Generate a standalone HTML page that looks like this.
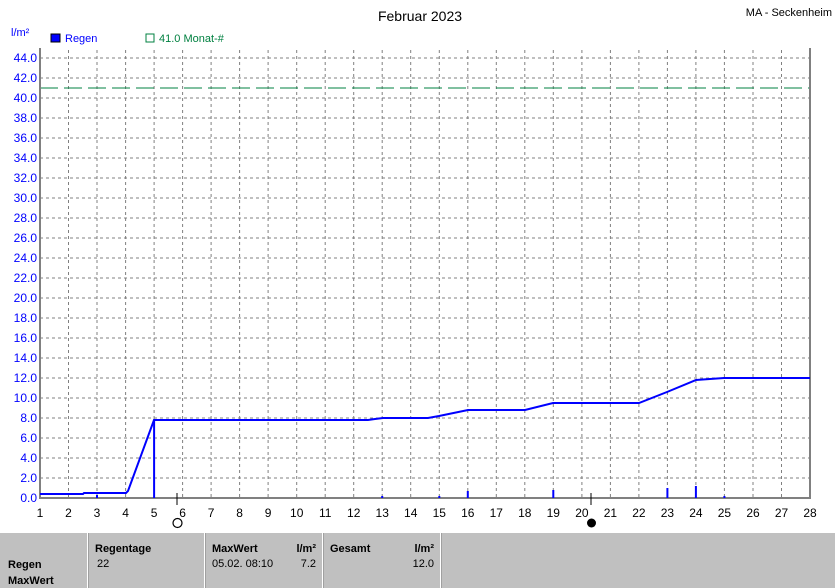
<!DOCTYPE html>
<html><head><meta charset="utf-8"><style>
html,body{margin:0;padding:0;background:#fff;}
body{width:835px;height:588px;overflow:hidden;position:relative;font-family:"Liberation Sans",sans-serif;}
svg text{font-family:"Liberation Sans",sans-serif;}
</style></head><body>
<svg width="835" height="588" xmlns="http://www.w3.org/2000/svg" style="position:absolute;left:0;top:0">
<text x="420" y="21" font-size="14" text-anchor="middle" fill="#000">Februar 2023</text>
<text x="832" y="16" font-size="11" text-anchor="end" fill="#000">MA - Seckenheim</text>
<text x="11" y="36" font-size="11" fill="#0000ff">l/m²</text>
<rect x="51" y="34" width="9" height="8" fill="#0000ff" stroke="#000" stroke-width="1"/>
<text x="65" y="42" font-size="11" fill="#0000ff">Regen</text>
<rect x="146" y="34" width="8" height="8" fill="none" stroke="#008040" stroke-width="1"/>
<text x="159" y="42" font-size="11" fill="#008040">41.0 Monat-#</text>
<g stroke="#808080" stroke-width="1" stroke-dasharray="3,3">
<line x1="40" y1="58" x2="810" y2="58"/><line x1="40" y1="78" x2="810" y2="78"/><line x1="40" y1="98" x2="810" y2="98"/><line x1="40" y1="118" x2="810" y2="118"/><line x1="40" y1="138" x2="810" y2="138"/><line x1="40" y1="158" x2="810" y2="158"/><line x1="40" y1="178" x2="810" y2="178"/><line x1="40" y1="198" x2="810" y2="198"/><line x1="40" y1="218" x2="810" y2="218"/><line x1="40" y1="238" x2="810" y2="238"/><line x1="40" y1="258" x2="810" y2="258"/><line x1="40" y1="278" x2="810" y2="278"/><line x1="40" y1="298" x2="810" y2="298"/><line x1="40" y1="318" x2="810" y2="318"/><line x1="40" y1="338" x2="810" y2="338"/><line x1="40" y1="358" x2="810" y2="358"/><line x1="40" y1="378" x2="810" y2="378"/><line x1="40" y1="398" x2="810" y2="398"/><line x1="40" y1="418" x2="810" y2="418"/><line x1="40" y1="438" x2="810" y2="438"/><line x1="40" y1="458" x2="810" y2="458"/><line x1="40" y1="478" x2="810" y2="478"/>
<line x1="68.5" y1="50" x2="68.5" y2="498"/><line x1="97" y1="50" x2="97" y2="498"/><line x1="125.6" y1="50" x2="125.6" y2="498"/><line x1="154.1" y1="50" x2="154.1" y2="498"/><line x1="182.6" y1="50" x2="182.6" y2="498"/><line x1="211.1" y1="50" x2="211.1" y2="498"/><line x1="239.6" y1="50" x2="239.6" y2="498"/><line x1="268.1" y1="50" x2="268.1" y2="498"/><line x1="296.7" y1="50" x2="296.7" y2="498"/><line x1="325.2" y1="50" x2="325.2" y2="498"/><line x1="353.7" y1="50" x2="353.7" y2="498"/><line x1="382.2" y1="50" x2="382.2" y2="498"/><line x1="410.7" y1="50" x2="410.7" y2="498"/><line x1="439.3" y1="50" x2="439.3" y2="498"/><line x1="467.8" y1="50" x2="467.8" y2="498"/><line x1="496.3" y1="50" x2="496.3" y2="498"/><line x1="524.8" y1="50" x2="524.8" y2="498"/><line x1="553.3" y1="50" x2="553.3" y2="498"/><line x1="581.9" y1="50" x2="581.9" y2="498"/><line x1="610.4" y1="50" x2="610.4" y2="498"/><line x1="638.9" y1="50" x2="638.9" y2="498"/><line x1="667.4" y1="50" x2="667.4" y2="498"/><line x1="695.9" y1="50" x2="695.9" y2="498"/><line x1="724.4" y1="50" x2="724.4" y2="498"/><line x1="753" y1="50" x2="753" y2="498"/><line x1="781.5" y1="50" x2="781.5" y2="498"/>
</g>
<line x1="40" y1="88" x2="810" y2="88" stroke="#008040" stroke-width="1" stroke-dasharray="18,6"/>
<polyline fill="none" stroke="#808080" stroke-width="2" points="40,48 40,498 810,498 810,48"/>
<g fill="#0000ff" font-size="12" text-anchor="end">
<text x="37" y="62">44.0</text><text x="37" y="82">42.0</text><text x="37" y="102">40.0</text><text x="37" y="122">38.0</text><text x="37" y="142">36.0</text><text x="37" y="162">34.0</text><text x="37" y="182">32.0</text><text x="37" y="202">30.0</text><text x="37" y="222">28.0</text><text x="37" y="242">26.0</text><text x="37" y="262">24.0</text><text x="37" y="282">22.0</text><text x="37" y="302">20.0</text><text x="37" y="322">18.0</text><text x="37" y="342">16.0</text><text x="37" y="362">14.0</text><text x="37" y="382">12.0</text><text x="37" y="402">10.0</text><text x="37" y="422">8.0</text><text x="37" y="442">6.0</text><text x="37" y="462">4.0</text><text x="37" y="482">2.0</text><text x="37" y="502">0.0</text>
</g>
<g fill="#000" font-size="12" text-anchor="middle">
<text x="40" y="517">1</text><text x="68.5" y="517">2</text><text x="97" y="517">3</text><text x="125.6" y="517">4</text><text x="154.1" y="517">5</text><text x="182.6" y="517">6</text><text x="211.1" y="517">7</text><text x="239.6" y="517">8</text><text x="268.1" y="517">9</text><text x="296.7" y="517">10</text><text x="325.2" y="517">11</text><text x="353.7" y="517">12</text><text x="382.2" y="517">13</text><text x="410.7" y="517">14</text><text x="439.3" y="517">15</text><text x="467.8" y="517">16</text><text x="496.3" y="517">17</text><text x="524.8" y="517">18</text><text x="553.3" y="517">19</text><text x="581.9" y="517">20</text><text x="610.4" y="517">21</text><text x="638.9" y="517">22</text><text x="667.4" y="517">23</text><text x="695.9" y="517">24</text><text x="724.4" y="517">25</text><text x="753" y="517">26</text><text x="781.5" y="517">27</text><text x="810" y="517">28</text>
</g>
<g stroke="#0000ff" stroke-width="2">
<line x1="154.1" y1="420" x2="154.1" y2="498"/>
<line x1="97" y1="495" x2="97" y2="498"/>
<line x1="382.2" y1="496" x2="382.2" y2="498"/>
<line x1="439.3" y1="496" x2="439.3" y2="498"/>
<line x1="467.8" y1="491" x2="467.8" y2="498"/>
<line x1="553.3" y1="490" x2="553.3" y2="498"/>
<line x1="667.4" y1="488" x2="667.4" y2="498"/>
<line x1="695.9" y1="486" x2="695.9" y2="498"/>
<line x1="724.4" y1="496" x2="724.4" y2="498"/>
</g>
<polyline fill="none" stroke="#0000ff" stroke-width="2" points="40,494 83,494 84,493 126,493 128,491 154,420 160,420 368,420 375,419 383,418 428,418 439,416 468,410 525,410 553,403 639,403 667,392 696,380 710,379 724,378 810,378"/>
<line x1="177" y1="493" x2="177" y2="505" stroke="#000" stroke-width="1"/>
<circle cx="177.5" cy="523" r="4.5" fill="#fff" stroke="#000" stroke-width="1.2"/>
<line x1="591" y1="493" x2="591" y2="505" stroke="#000" stroke-width="1"/>
<circle cx="591.5" cy="523" r="4.5" fill="#000"/>
<rect x="0" y="533" width="835" height="55" fill="#c0c0c0"/>
<g fill="#fff"><rect x="87" y="533" width="1" height="55"/><rect x="204" y="533" width="1" height="55"/><rect x="322" y="533" width="1" height="55"/><rect x="440" y="533" width="1" height="55"/></g>
<g fill="#a0a0a0"><rect x="88" y="533" width="1" height="55"/><rect x="205" y="533" width="1" height="55"/><rect x="323" y="533" width="1" height="55"/><rect x="441" y="533" width="1" height="55"/></g>
<g fill="#000" font-size="11" font-weight="bold">
<text x="8" y="568">Regen</text><text x="8" y="584">MaxWert</text>
<text x="95" y="552">Regentage</text>
<text x="212" y="552">MaxWert</text><text x="316" y="552" text-anchor="end">l/m²</text>
<text x="330" y="552">Gesamt</text><text x="434" y="552" text-anchor="end">l/m²</text>
</g>
<g fill="#000" font-size="11">
<text x="97" y="567">22</text>
<text x="212" y="567">05.02.  08:10</text><text x="316" y="567" text-anchor="end">7.2</text>
<text x="434" y="567" text-anchor="end">12.0</text>
</g>
</svg>
</body></html>
